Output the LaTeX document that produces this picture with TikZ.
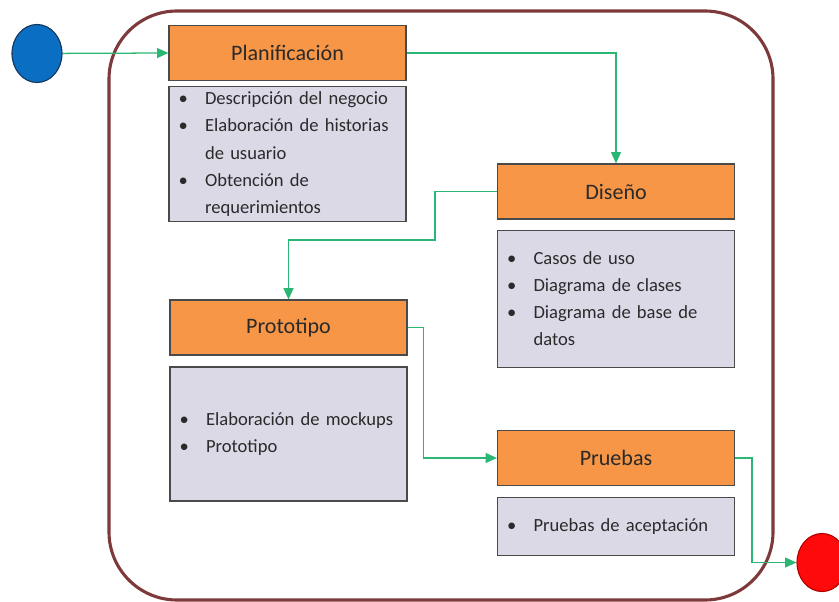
\documentclass[tikz,border=0pt]{standalone}
\usepackage{fontspec}
\setmainfont{Carlito}
\usetikzlibrary{arrows.meta,positioning,shapes.geometric}
\definecolor{Naranja}{HTML}{F79646}
\definecolor{Lila}{HTML}{DCD9E7}
\definecolor{Verde}{HTML}{2BB673}
\definecolor{Marco}{HTML}{7E3A3A}
\definecolor{Azul}{HTML}{0A6FC2}
\definecolor{AzulOscuro}{HTML}{17365D}
\definecolor{Rojo}{HTML}{FF0A0A}
\definecolor{RojoOscuro}{HTML}{B00000}
\definecolor{Borde}{HTML}{4A4A4A}
\definecolor{Texto}{HTML}{2A2A2A}
\newcommand{\vineta}[1]{\makebox[0.66cm][l]{\textbullet}#1}
\newcommand{\sigue}[1]{\hspace*{0.66cm}#1}

\begin{document}
\begin{tikzpicture}[
  x=0.025cm,y=-0.025cm,
  fase/.style={draw=Borde,fill=Naranja,line width=0.9pt,minimum width=5.92cm,
    minimum height=1.37cm,inner sep=0pt,text=Texto,
    font=\fontsize{15.7}{18}\selectfont},
  tareas/.style={draw=Borde,fill=Lila,line width=0.9pt,minimum width=5.92cm,
    text width=5.44cm,inner xsep=0.24cm,inner ysep=0pt,align=left,text=Texto,
    font=\fontsize{13.2}{19.3}\selectfont},
  flujo/.style={-{Triangle[length=8pt,width=7pt]},draw=Verde,line width=0.9pt},
  estado/.style={ellipse,minimum width=1.25cm,minimum height=1.45cm,
    line width=0.8pt,inner sep=0pt}
]
  \useasboundingbox (0,0) rectangle (839,602);
  \clip (0,0) rectangle (839,602);

  % Marco del proceso
  \draw[Marco,line width=2.2pt,rounded corners=1.7cm] (109,11) rectangle (773,600);

  % Fases y sus actividades
  \node[fase] (plan) at (287.5,53) {Planificación};
  \node[tareas,minimum height=3.375cm,below=0.125cm of plan] (planbody)
    {\vineta{Descripción del negocio}\\
     \vineta{Elaboración de historias}\\
     \sigue{de usuario}\\
     \vineta{Obtención de}\\
     \sigue{requerimientos}};

  \node[fase] (diseno) at (616,191.5) {Diseño};
  \node[tareas,minimum height=3.425cm,below=0.25cm of diseno] (disenobody)
    {\vineta{Casos de uso}\\
     \vineta{Diagrama de clases}\\
     \vineta{Diagrama de base de}\\
     \sigue{datos}};

  \node[fase] (proto) at (288.5,327.5) {Prototipo};
  \node[tareas,minimum height=3.35cm,below=0.27cm of proto] (protobody)
    {\vineta{Elaboración de mockups}\\
     \vineta{Prototipo}};

  \node[fase] (pruebas) at (616,458) {Pruebas};
  \node[tareas,minimum height=1.45cm,below=0.27cm of pruebas] (pruebasbody)
    {\vineta{Pruebas de aceptación}};

  % Estados inicial y final
  \node[estado,draw=AzulOscuro,fill=Azul] (inicio) at (37,53.5) {};
  \node[estado,draw=RojoOscuro,fill=Rojo] (fin) at (822,562.5) {};

  % Transiciones
  \coordinate (k1) at (435,240);
  \draw[flujo] (inicio) -- (plan.west);
  \draw[flujo] (plan.east) -| (diseno.north);
  \draw[flujo] (diseno.west) -| (k1) -| (proto.north);
  \draw[flujo] (proto.east) -- ++(16,0) |- (pruebas.west);
  \draw[flujo] (pruebas.east) -- ++(17,0) |- (fin.west);
\end{tikzpicture}
\end{document}
